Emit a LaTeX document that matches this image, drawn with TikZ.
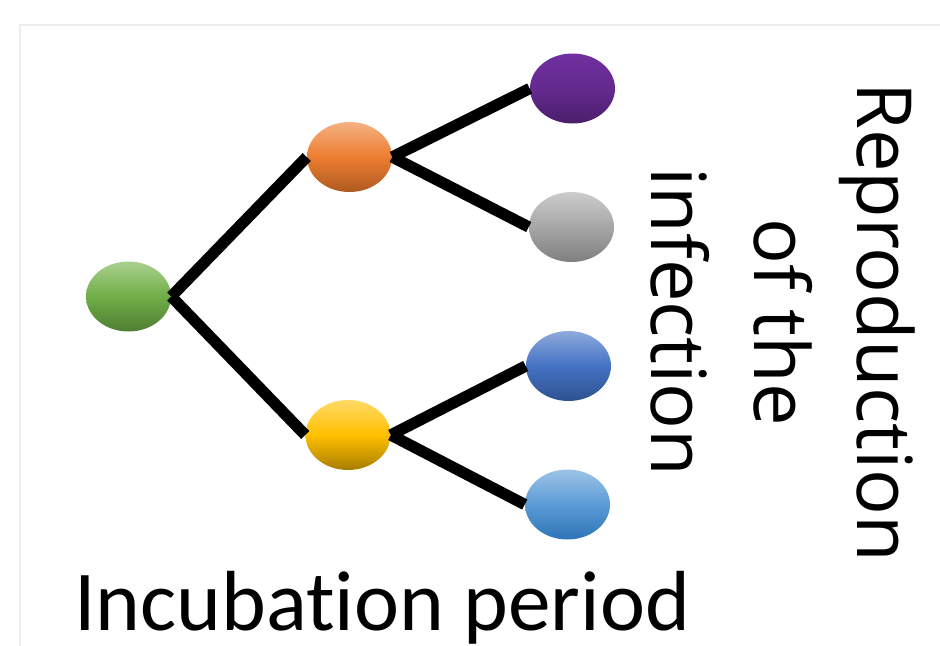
\documentclass[tikz,border=0pt]{standalone}
\usepackage{fontspec}
\setmainfont{Carlito}[Ligatures=NoCommon]
\setsansfont{Open Sans}
\usetikzlibrary{shapes.geometric}

% Blob colours (top, middle, bottom)
\definecolor{greenT}{HTML}{A9D18E}  \definecolor{greenM}{HTML}{70AD47}  \definecolor{greenB}{HTML}{507E32}
\definecolor{orangeT}{HTML}{F4B183} \definecolor{orangeM}{HTML}{ED7D31} \definecolor{orangeB}{HTML}{AE5A21}
\definecolor{purpleT}{HTML}{7030A0} \definecolor{purpleM}{HTML}{642A8F} \definecolor{purpleB}{HTML}{4A1E6B}
\definecolor{greyT}{HTML}{CCCCCC}   \definecolor{greyM}{HTML}{A6A6A6}   \definecolor{greyB}{HTML}{7F7F7F}
\definecolor{yellowT}{HTML}{FFD966} \definecolor{yellowM}{HTML}{FFC000} \definecolor{yellowB}{HTML}{A87D00}
\definecolor{blueT}{HTML}{8FAADC}   \definecolor{blueM}{HTML}{4472C4}   \definecolor{blueB}{HTML}{2F528F}
\definecolor{skyT}{HTML}{9DC3E6}    \definecolor{skyM}{HTML}{5B9BD5}    \definecolor{skyB}{HTML}{2E75B6}

\begin{document}
\begin{tikzpicture}[x=0.75pt, y=-0.75pt,
        blob/.style={ellipse, draw=none, inner sep=0pt,
            minimum width=63.75pt, minimum height=52.5pt,
            top color=#1T, bottom color=#1B, middle color=#1M}]
        \useasboundingbox (0,0) rectangle (940,646);

        % 1. The faint frame
        \draw[line width=1.5pt, black!7] (20,646) -- (20,25) -- (940,25);

        % 2. Define the blobs (Nodes)
        % Left
        \node[blob=green]  (G) at (128.5,296.5) {};   % Root
        % Middle column
        \node[blob=orange] (O) at (349.5,157) {};     % Upper
        \node[blob=yellow] (Y) at (348,435) {};       % Lower
        % Right column
        \node[blob=purple] (P) at (572.5,88.5) {};
        \node[blob=grey]   (S) at (571.5,227) {};
        \node[blob=blue]   (B) at (568.5,366) {};
        \node[blob=sky]    (L) at (567.5,504.5) {};

        % 3. Draw the Edges (Lines)
        \begin{scope}[line width=8.5pt, black]
            \foreach \a/\b in {G/O, G/Y, O/P, O/S, Y/B, Y/L}
                \draw (\a.east) -- (\b.west);
        \end{scope}

        % 4. The labels
        \node[font=\fontsize{64}{77}\selectfont, anchor=base west, inner sep=0pt]
            (incub) at (74,630) {Incubation period};
        \node[rotate=-90, align=center, inner sep=0pt,
            font=\sffamily\fontsize{57}{77}\selectfont]
            (repro) at (783,322) {Reproduction\\of the\\infection};

    \end{tikzpicture}
\end{document}
